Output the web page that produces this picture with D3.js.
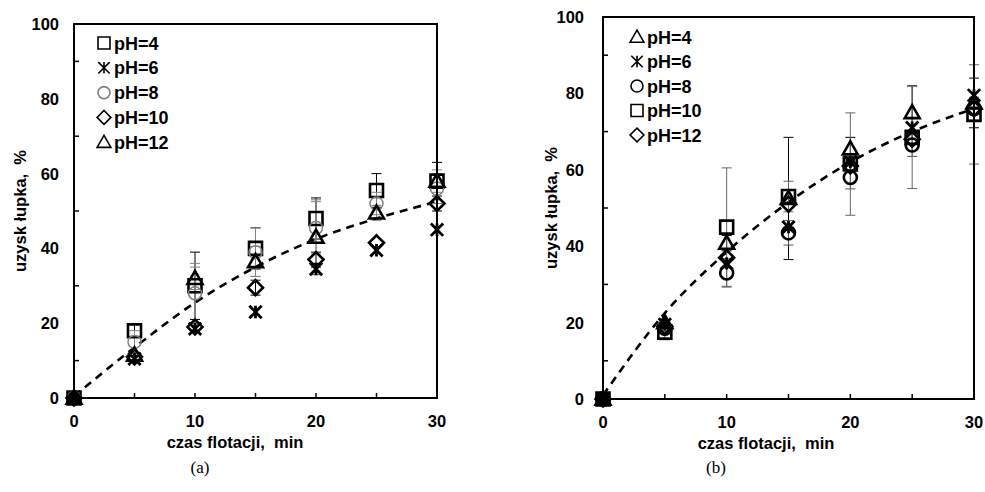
<!DOCTYPE html>
<html><head><meta charset="utf-8">
<script src="https://cdn.jsdelivr.net/npm/d3@7"></script>
<style>body{margin:0;background:#fff}svg{display:block}</style>
</head><body>
<svg id="c" width="985" height="492"></svg>
<script>
// ---------- data ----------
const times = [0, 5, 10, 15, 20, 25, 30];
const xTickLabels = [0, 10, 20, 30];
const yTickLabels = [0, 20, 40, 60, 80, 100];

// panel (a)
const a_labels = ["pH=4", "pH=6", "pH=8", "pH=10", "pH=12"];
const a_pH4  = [0, 18, 30, 40, 48, 55.5, 58];
const a_pH6  = [0, 10.5, 18.5, 23, 34.5, 39.5, 45];
const a_pH8  = [0, 15, 28, 39, 45.5, 52, 56];
const a_pH10 = [0, 11, 19, 29.5, 37, 41.5, 52];
const a_pH12 = [0, 11.5, 32, 36.5, 43, 49.5, 58];
const a_err4  = [0, 1.5, 9, 5.5, 5.5, 4.5, 5];
const a_err6  = [0, 1, 1, 1, 1.5, 1, 1];
const a_err8  = [0, 3, 8, 6.5, 7, 3, 4];
const a_err10 = [0, 1, 1, 2, 2, 1, 2];
const a_err12 = [0, 1, 3, 4, 10, 2, 3];
const a_fit   = [0.5, 13.5, 25.5, 35, 42.5, 48, 52.5];

// panel (b)
const b_labels = ["pH=4", "pH=6", "pH=8", "pH=10", "pH=12"];
const b_pH4  = [0, 20, 40.8, 52.5, 65.5, 75, 77.5];
const b_pH6  = [0, 19.5, 35.5, 45, 62, 71, 79.5];
const b_pH8  = [0, 18.5, 33, 43.5, 58, 66.5, 76];
const b_pH10 = [0, 17.5, 45, 53, 61.5, 68.5, 74.5];
const b_pH12 = [0, 19, 37, 51, 61, 68, 76];
const b_err4  = [0, 1, 2, 16, 3, 7, 6.5];
const b_err6  = [0, 1, 1, 1, 1, 1, 1];
const b_err8  = [0, 1, 3.7, 3.2, 3, 3, 3];
const b_err10 = [0, 2, 15.5, 4, 13.4, 13.4, 13];
const b_err12 = [0, 1, 1, 1, 1, 1, 1];
const b_fit   = [1, 22.5, 38.5, 51.5, 62, 70, 76];

// ---------- symbols ----------
function sym(type, r) {
  const p = d3.path();
  if (type === "square") { p.rect(-r, -r, 2*r, 2*r); }
  else if (type === "circle") { p.arc(0, 0, r, 0, 2*Math.PI); p.closePath(); }
  else if (type === "diamond") { const q = r*1.15; p.moveTo(0,-q); p.lineTo(q,0); p.lineTo(0,q); p.lineTo(-q,0); p.closePath(); }
  else if (type === "triangle") { const q = r*1.15; p.moveTo(0,-q); p.lineTo(q,q*0.75); p.lineTo(-q,q*0.75); p.closePath(); }
  else if (type === "star") { const q = r*0.95; p.moveTo(-q,-q); p.lineTo(q,q); p.moveTo(q,-q); p.lineTo(-q,q); p.moveTo(0,-q); p.lineTo(0,q); }
  return p.toString();
}

const svg = d3.select("#c");
const FONT = "Liberation Sans, Arial, sans-serif";

function panel(cfg) {
  const x = d3.scaleLinear().domain([0, 30]).range([cfg.x0, cfg.x1]);
  const y = d3.scaleLinear().domain([0, 100]).range([cfg.y0, cfg.y1]);
  const g = svg.append("g");

  // fit curve
  const line = d3.line().x((d, i) => x(times[i])).y(d => y(d)).curve(d3.curveMonotoneX);
  g.append("path").attr("d", line(cfg.fit)).attr("fill", "none")
    .attr("stroke", "#000").attr("stroke-width", 2.6).attr("stroke-dasharray", "8,6");

  // error bars
  cfg.series.forEach(s => {
    s.values.forEach((v, i) => {
      const e = s.err[i];
      if (!e || e < 1.2) return;
      const xx = x(times[i]);
      g.append("line").attr("x1", xx).attr("x2", xx).attr("y1", y(v - e)).attr("y2", y(v + e))
        .attr("stroke", s.ecol).attr("stroke-width", 1);
      [v - e, v + e].forEach(t => g.append("line").attr("x1", xx - 5).attr("x2", xx + 5)
        .attr("y1", y(t)).attr("y2", y(t)).attr("stroke", s.ecol).attr("stroke-width", 1));
    });
  });

  // markers
  cfg.series.forEach(s => {
    g.selectAll(null).data(s.values).enter().append("path")
      .attr("d", sym(s.type, s.r))
      .attr("transform", (d, i) => `translate(${x(times[i])},${y(d)})`)
      .attr("fill", (d, i) => (times[i] === 0 && d === 0 && s.type === "square") ? "#000" : "none")
      .attr("stroke", s.col).attr("stroke-width", s.sw);
  });

  // frame
  g.append("rect").attr("x", cfg.x0).attr("y", cfg.y1).attr("width", cfg.x1 - cfg.x0)
    .attr("height", cfg.y0 - cfg.y1).attr("fill", "none").attr("stroke", "#000").attr("stroke-width", 2);

  // ticks (inside)
  [5, 10, 15, 20, 25].forEach(t => g.append("line").attr("x1", x(t)).attr("x2", x(t))
    .attr("y1", cfg.y0).attr("y2", cfg.y0 - 5).attr("stroke", "#000").attr("stroke-width", 1.5));
  [10, 30, 50, 70, 90].forEach(t => g.append("line").attr("x1", cfg.x0).attr("x2", cfg.x0 + 5)
    .attr("y1", y(t)).attr("y2", y(t)).attr("stroke", "#000").attr("stroke-width", 1.5));

  // tick labels
  g.selectAll(null).data(xTickLabels).enter().append("text")
    .attr("x", d => x(d)).attr("y", cfg.y0 + 29).attr("text-anchor", "middle")
    .attr("font-family", FONT).attr("font-weight", "bold").attr("font-size", 16.5).text(d => d);
  g.selectAll(null).data(yTickLabels).enter().append("text")
    .attr("x", cfg.x0 - cfg.ylabGap).attr("y", d => y(d) + 6).attr("text-anchor", "end")
    .attr("font-family", FONT).attr("font-weight", "bold").attr("font-size", 16.5).text(d => d);

  // axis titles
  g.append("text").attr("x", cfg.xTitleX).attr("y", cfg.y0 + 50).attr("text-anchor", "middle")
    .attr("font-family", FONT).attr("font-weight", "bold").attr("font-size", 16.5)
    .attr("xml:space", "preserve").text("czas flotacji,  min");
  g.append("text").attr("transform", `translate(${cfg.yTitleX},${(cfg.y0 + cfg.y1) / 2}) rotate(-90)`)
    .attr("text-anchor", "middle").attr("font-family", FONT).attr("font-weight", "bold")
    .attr("font-size", 16.5).attr("xml:space", "preserve").text("uzysk łupka,  %");

  // legend
  cfg.series.forEach((s, i) => {
    const ly = cfg.legY + i * cfg.legDy;
    g.append("path").attr("d", sym(s.type, 6)).attr("transform", `translate(${cfg.legX},${ly})`)
      .attr("fill", "none").attr("stroke", s.col).attr("stroke-width", 1.6);
    g.append("text").attr("x", cfg.legX + 10).attr("y", ly + 6.5)
      .attr("font-family", FONT).attr("font-weight", "bold").attr("font-size", 18).text(s.label);
  });

  // caption
  g.append("text").attr("x", cfg.capX).attr("y", 473).attr("text-anchor", "middle")
    .attr("font-family", "Liberation Serif, Times New Roman, serif").attr("font-size", 17).text(cfg.cap);
}

panel({
  x0: 74, x1: 437, y0: 398, y1: 24, ylabGap: 15, xTitleX: 235, yTitleX: 26,
  legX: 104, legY: 43, legDy: 24.8, capX: 200, cap: "(a)", fit: a_fit,
  series: [
    {label: a_labels[0], values: a_pH4,  err: a_err4,  type: "square",   r: 6.5, col: "#000", sw: 2.6, ecol: "#000"},
    {label: a_labels[1], values: a_pH6,  err: a_err6,  type: "star",     r: 6.5, col: "#000", sw: 2.8, ecol: "#000"},
    {label: a_labels[2], values: a_pH8,  err: a_err8,  type: "circle",   r: 6.5, col: "#808080", sw: 1.5, ecol: "#808080"},
    {label: a_labels[3], values: a_pH10, err: a_err10, type: "diamond",  r: 6.5, col: "#000", sw: 2.6, ecol: "#000"},
    {label: a_labels[4], values: a_pH12, err: a_err12, type: "triangle", r: 6.5, col: "#000", sw: 2.6, ecol: "#808080"}
  ]
});

panel({
  x0: 603, x1: 974, y0: 399, y1: 17, ylabGap: 19, xTitleX: 766, yTitleX: 557,
  legX: 637, legY: 37, legDy: 24.5, capX: 716, cap: "(b)", fit: b_fit,
  series: [
    {label: b_labels[0], values: b_pH4,  err: b_err4,  type: "triangle", r: 6.5, col: "#000", sw: 2.6, ecol: "#000"},
    {label: b_labels[1], values: b_pH6,  err: b_err6,  type: "star",     r: 6.5, col: "#000", sw: 2.8, ecol: "#000"},
    {label: b_labels[2], values: b_pH8,  err: b_err8,  type: "circle",   r: 6.5, col: "#000", sw: 2.6, ecol: "#555"},
    {label: b_labels[3], values: b_pH10, err: b_err10, type: "square",   r: 6.5, col: "#000", sw: 2.6, ecol: "#666"},
    {label: b_labels[4], values: b_pH12, err: b_err12, type: "diamond",  r: 6.5, col: "#000", sw: 2.6, ecol: "#000"}
  ]
});
</script>
</body></html>
